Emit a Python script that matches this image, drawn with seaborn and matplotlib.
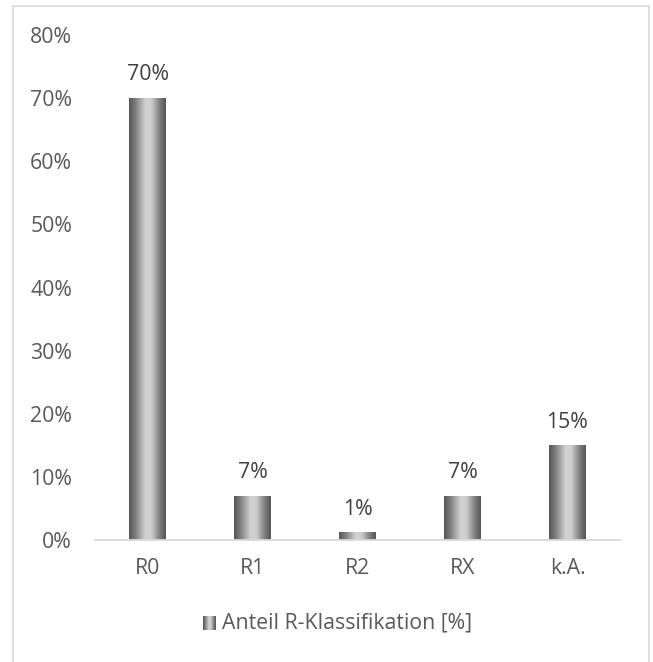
import numpy as np
import pandas as pd
import matplotlib
matplotlib.use("Agg")
import matplotlib.pyplot as plt
import seaborn as sns
from matplotlib.patches import Rectangle
from matplotlib.colors import LinearSegmentedColormap

categories = ["R0", "R1", "R2", "RX", "k.A."]
values = [70, 7, 1.2, 7, 15]
value_labels = ["70%", "7%", "1%", "7%", "15%"]
y_ticks = [0, 10, 20, 30, 40, 50, 60, 70, 80]
y_tick_labels = [f"{t}%" for t in y_ticks]
series_name = "Anteil R-Klassifikation [%]"

sns.set_theme(style="white")
plt.rcParams["font.family"] = ["Open Sans", "DejaVu Sans"]
text_color = "#595959"
fs = 15.3

df = pd.DataFrame({"Kategorie": categories, "Anteil": values})

fig = plt.figure(figsize=(6.53, 6.62), dpi=100)
W, H = 653, 662
ax = fig.add_axes([95 / W, (H - 540) / H, (620 - 95) / W, (540 - 35) / H])

sns.barplot(data=df, x="Kategorie", y="Anteil", ax=ax, width=0.343,
            color="#999999", saturation=1, edgecolor="none")

ax.set_ylim(0, 80)
ax.set_xlim(-0.5, len(categories) - 0.5)
ax.set_yticks(y_ticks)
ax.set_yticklabels(y_tick_labels)
ax.set_xlabel("")
ax.set_ylabel("")
ax.tick_params(axis="y", length=0, pad=16.5, labelsize=fs, labelcolor=text_color)
ax.tick_params(axis="x", length=0, pad=13, labelsize=fs, labelcolor=text_color)
for side in ["top", "right", "left"]:
    ax.spines[side].set_visible(False)
ax.spines["bottom"].set_color("#d9d9d9")
ax.spines["bottom"].set_linewidth(1.3)

# cylinder-like horizontal gradient for the bars
gray = LinearSegmentedColormap.from_list(
    "cyl", [(0.0, "#555555"), (0.18, "#808080"), (0.45, "#d2d2d2"),
            (0.6, "#cfcfcf"), (0.85, "#7a7a7a"), (1.0, "#555555")])
grad = np.linspace(0, 1, 256).reshape(1, -1)
for patch in list(ax.patches):
    x0 = patch.get_x()
    w = patch.get_width()
    h = patch.get_height()
    im = ax.imshow(grad, cmap=gray, aspect="auto",
                   extent=[x0, x0 + w, 0, h], zorder=patch.get_zorder() + 0.1,
                   interpolation="bilinear")
    im.set_clip_path(patch)
ax.set_xlim(-0.5, len(categories) - 0.5)
ax.set_ylim(0, 80)

for i, (v, lab) in enumerate(zip(values, value_labels)):
    ax.text(i, v + 2.0, lab, ha="center", va="bottom",
            fontsize=fs, color="#404040")

# legend entry below the plot
lx, ly = 203, 623
leg_ax = fig.add_axes([lx / W, (H - ly - 7) / H, 13 / W, 14 / H])
leg_ax.imshow(grad, cmap=gray, aspect="auto", interpolation="bilinear")
leg_ax.axis("off")
fig.text((lx + 19) / W, (H - ly) / H, series_name, ha="left", va="center",
         fontsize=fs, color=text_color)

# chart frame
fig.add_artist(Rectangle((13 / W, -0.01), (649 - 13) / W, (H - 6) / H + 0.01,
                         transform=fig.transFigure, fill=False,
                         edgecolor="#d9d9d9", linewidth=1.2))

fig.savefig("out.png", dpi=100, facecolor="white")
